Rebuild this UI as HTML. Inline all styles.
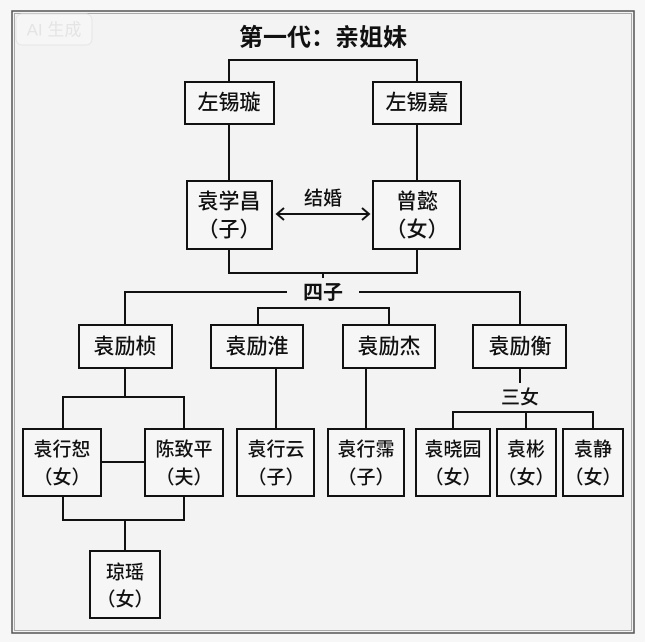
<!DOCTYPE html>
<html><head><meta charset="utf-8"><style>
html,body{margin:0;padding:0;background:#f7f7f7;}
svg{display:block}
text{font-family:"Liberation Sans","Noto Sans CJK SC",sans-serif;fill:#111;text-anchor:middle;dominant-baseline:central;font-weight:500}
</style></head><body>
<svg width="645" height="642" viewBox="0 0 645 642">
<rect x="0" y="0" width="645" height="642" fill="#f7f7f7"/>
<rect x="12" y="11" width="622" height="622" fill="#f3f3f3" stroke="#555" stroke-width="1.5"/>
<rect x="14.5" y="13.5" width="617" height="617" fill="none" stroke="#aaa" stroke-width="1"/>
<rect x="16" y="14" width="76" height="31" rx="6" fill="#f6f6f6" stroke="#e6e6e6"/>
<text x="54" y="30" style="fill:#e4e4e4;font-size:17px;font-weight:normal">AI 生成</text>
<text x="323" y="38" style="font-size:24px;font-weight:bold">第一代：亲姐妹</text>
<g fill="none" stroke="#111" stroke-width="2">
<polyline points="229,82 229,60 417,60 417,82"/>
<line x1="229" y1="124" x2="229" y2="181"/>
<line x1="417" y1="124" x2="417" y2="181"/>
<line x1="277" y1="214" x2="369" y2="214"/>
<polyline points="284,208 277,214 284,220"/>
<polyline points="362,208 369,214 362,220"/>
<polyline points="229,249 229,273 417,273 417,249"/>
<line x1="323" y1="273" x2="323" y2="278"/>
<polyline points="125,325 125,292 287,292"/>
<polyline points="359,292 520,292 520,325"/>
<polyline points="258,325 258,308 389,308 389,325"/>
<line x1="125" y1="368" x2="125" y2="397"/>
<polyline points="63,429 63,397 184,397 184,429"/>
<line x1="101" y1="462" x2="145" y2="462"/>
<line x1="276" y1="368" x2="276" y2="429"/>
<line x1="366" y1="368" x2="366" y2="429"/>
<line x1="520" y1="368" x2="520" y2="383"/>
<polyline points="453,429 453,412 593,412 593,429"/>
<line x1="526" y1="412" x2="526" y2="429"/>
<polyline points="63,496 63,520 184,520 184,496"/>
<line x1="125" y1="520" x2="125" y2="551"/>
</g>
<g fill="#f6f6f6" stroke="#111" stroke-width="2">
<rect x="185" y="82" width="89" height="42"/>
<rect x="373" y="82" width="88" height="42"/>
<rect x="187" y="181" width="85" height="68"/>
<rect x="373" y="181" width="87" height="68"/>
<rect x="79" y="325" width="93" height="43"/>
<rect x="211" y="325" width="92" height="43"/>
<rect x="343" y="325" width="92" height="43"/>
<rect x="473" y="325" width="93" height="43"/>
<rect x="23" y="429" width="78" height="67"/>
<rect x="145" y="429" width="78" height="67"/>
<rect x="237" y="429" width="77" height="67"/>
<rect x="328" y="429" width="76" height="67"/>
<rect x="416" y="429" width="74" height="67"/>
<rect x="497" y="429" width="59" height="67"/>
<rect x="563" y="429" width="60" height="67"/>
<rect x="90" y="551" width="70" height="67"/>
</g>
<g style="font-size:21px">
<text x="229" y="103">左锡璇</text>
<text x="417" y="103">左锡嘉</text>
<text x="229" y="202">袁学昌</text><text x="229" y="230">（子）</text>
<text x="417" y="202">曾懿</text><text x="417" y="230">（女）</text>
<text x="323" y="199" style="font-size:19px">结婚</text>
<text x="323" y="293" style="font-size:20px;font-weight:bold">四子</text>
<text x="125" y="347">袁励桢</text>
<text x="257" y="347">袁励淮</text>
<text x="389" y="347">袁励杰</text>
<text x="520" y="347">袁励衡</text>
<text x="520" y="398" style="font-size:19px">三女</text>
</g>
<g style="font-size:19px">
<text x="62" y="450">袁行恕</text><text x="62" y="478">（女）</text>
<text x="184" y="450">陈致平</text><text x="184" y="478">（夫）</text>
<text x="276" y="450">袁行云</text><text x="276" y="478">（子）</text>
<text x="366" y="450">袁行霈</text><text x="366" y="478">（子）</text>
<text x="453" y="450">袁晓园</text><text x="453" y="478">（女）</text>
<text x="526" y="450">袁彬</text><text x="526" y="478">（女）</text>
<text x="593" y="450">袁静</text><text x="593" y="478">（女）</text>
<text x="125" y="573">琼瑶</text><text x="125" y="600">（女）</text>
</g>
</svg>
</body></html>
